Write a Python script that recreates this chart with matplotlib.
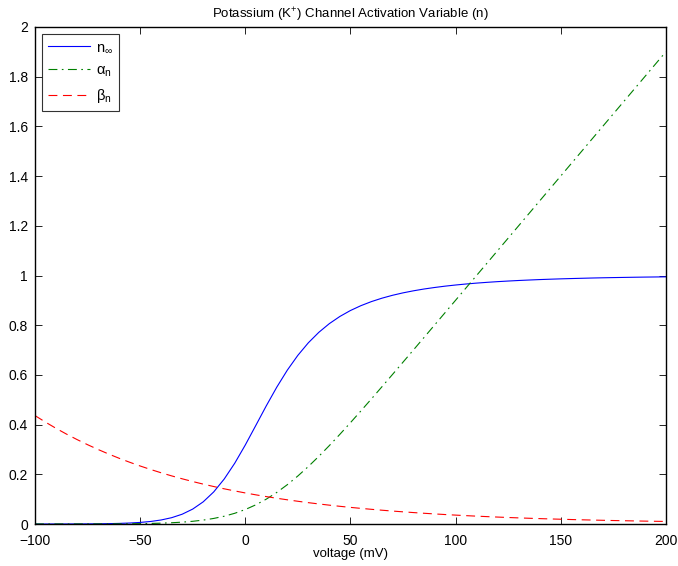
import matplotlib
matplotlib.use('Agg')
import matplotlib.pyplot as plt

plt.rcParams['font.family'] = ['Liberation Sans', 'DejaVu Sans']
plt.rcParams['mathtext.fontset'] = 'custom'
plt.rcParams['mathtext.rm'] = 'Liberation Sans'
plt.rcParams['mathtext.it'] = 'Liberation Sans'

# voltage samples (mV)
voltage = list(range(-100, 205, 5))

n_inf = [0.00004, 0.00007, 0.00012, 0.0002, 0.00033, 0.00054, 0.00089, 0.00147,
         0.00241, 0.00392, 0.00635, 0.01018, 0.01619, 0.02544, 0.03941, 0.0600,
         0.0892, 0.1291, 0.1811, 0.2446, 0.3177, 0.3963, 0.4755, 0.5508, 0.6191,
         0.6786, 0.7292, 0.7714, 0.8064, 0.8352, 0.8590, 0.8786, 0.8950, 0.9087,
         0.9203, 0.9301, 0.9384, 0.9456, 0.9517, 0.9571, 0.9617, 0.9658, 0.9694,
         0.9725, 0.9753, 0.9777, 0.9799, 0.9818, 0.9836, 0.9851, 0.9865, 0.9877,
         0.9888, 0.9899, 0.9908, 0.9916, 0.9923, 0.9930, 0.9936, 0.9941, 0.9946]

alpha_n = [0.00002, 0.00003, 0.00005, 0.00007, 0.00011, 0.00017, 0.00027, 0.00042,
           0.00064, 0.00098, 0.00149, 0.00226, 0.00339, 0.00506, 0.00746, 0.0109,
           0.0157, 0.0224, 0.0313, 0.0431, 0.0582, 0.0771, 0.1000, 0.1271, 0.1582,
           0.1931, 0.2313, 0.2724, 0.3157, 0.3609, 0.4075, 0.4551, 0.5034, 0.5523,
           0.6015, 0.6510, 0.7006, 0.7504, 0.8003, 0.8502, 0.9001, 0.9501, 1.0000,
           1.05, 1.10, 1.15, 1.20, 1.25, 1.30, 1.35, 1.40, 1.45, 1.50, 1.55, 1.60,
           1.65, 1.70, 1.75, 1.80, 1.85, 1.90]

beta_n = [0.4363, 0.4099, 0.3850, 0.3617, 0.3398, 0.3192, 0.2999, 0.2817, 0.2646,
          0.2486, 0.2335, 0.2194, 0.2061, 0.1936, 0.1819, 0.1709, 0.1605, 0.1508,
          0.1416, 0.1331, 0.1250, 0.1174, 0.1103, 0.1036, 0.0974, 0.0915, 0.0859,
          0.0807, 0.0758, 0.0712, 0.0669, 0.0629, 0.0591, 0.0555, 0.0521, 0.0490,
          0.0460, 0.0432, 0.0406, 0.0381, 0.0358, 0.0336, 0.0316, 0.0297, 0.0279,
          0.0262, 0.0246, 0.0231, 0.0217, 0.0204, 0.0192, 0.0180, 0.0169, 0.0159,
          0.0149, 0.0140, 0.0132, 0.0124, 0.0116, 0.0109, 0.0103]

fig = plt.figure(figsize=(6.78, 5.66), dpi=100)
ax = fig.add_axes([0.0516, 0.0742, 0.9304, 0.8781])

ax.plot(voltage, n_inf, color='#0000ff', lw=0.8, label=r'n$_{\infty}$')
ax.plot(voltage, alpha_n, color='#008000', lw=0.8, ls=(0, (8, 4, 1.5, 4)),
        label=r'$\alpha_{\rm n}$')
ax.plot(voltage, beta_n, color='#ff0000', lw=0.8, ls=(0, (8, 5)),
        label=r'$\beta_{\rm n}$')

ax.set_xlim(-100, 200)
ax.set_ylim(0, 2)
ax.set_xticks([-100, -50, 0, 50, 100, 150, 200])
ax.set_yticks([0, 0.2, 0.4, 0.6, 0.8, 1, 1.2, 1.4, 1.6, 1.8, 2])
ax.set_yticklabels(['0', '0.2', '0.4', '0.6', '0.8', '1', '1.2', '1.4', '1.6', '1.8', '2'])
ax.set_xticklabels(['\u2212100', '\u221250', '0', '50', '100', '150', '200'])
ax.tick_params(direction='in', top=True, right=True, labelsize=10, length=5, width=0.6)
ax.tick_params(axis='x', pad=7)
ax.tick_params(axis='y', pad=5)
for s in ax.spines.values():
    s.set_linewidth(1.0)

ax.set_xlabel('voltage (mV)', fontsize=9.5, labelpad=0)
ax.set_title(r'Potassium (K$^{+}$) Channel Activation Variable (n)', fontsize=9.5, pad=6)

leg = ax.legend(loc='upper left', fontsize=10.5, frameon=True, fancybox=False,
                edgecolor='black', handlelength=2.9, borderaxespad=0.5,
                labelspacing=0.6, handletextpad=0.4)
leg.get_frame().set_linewidth(0.8)

fig.savefig('out.png', dpi=100)
